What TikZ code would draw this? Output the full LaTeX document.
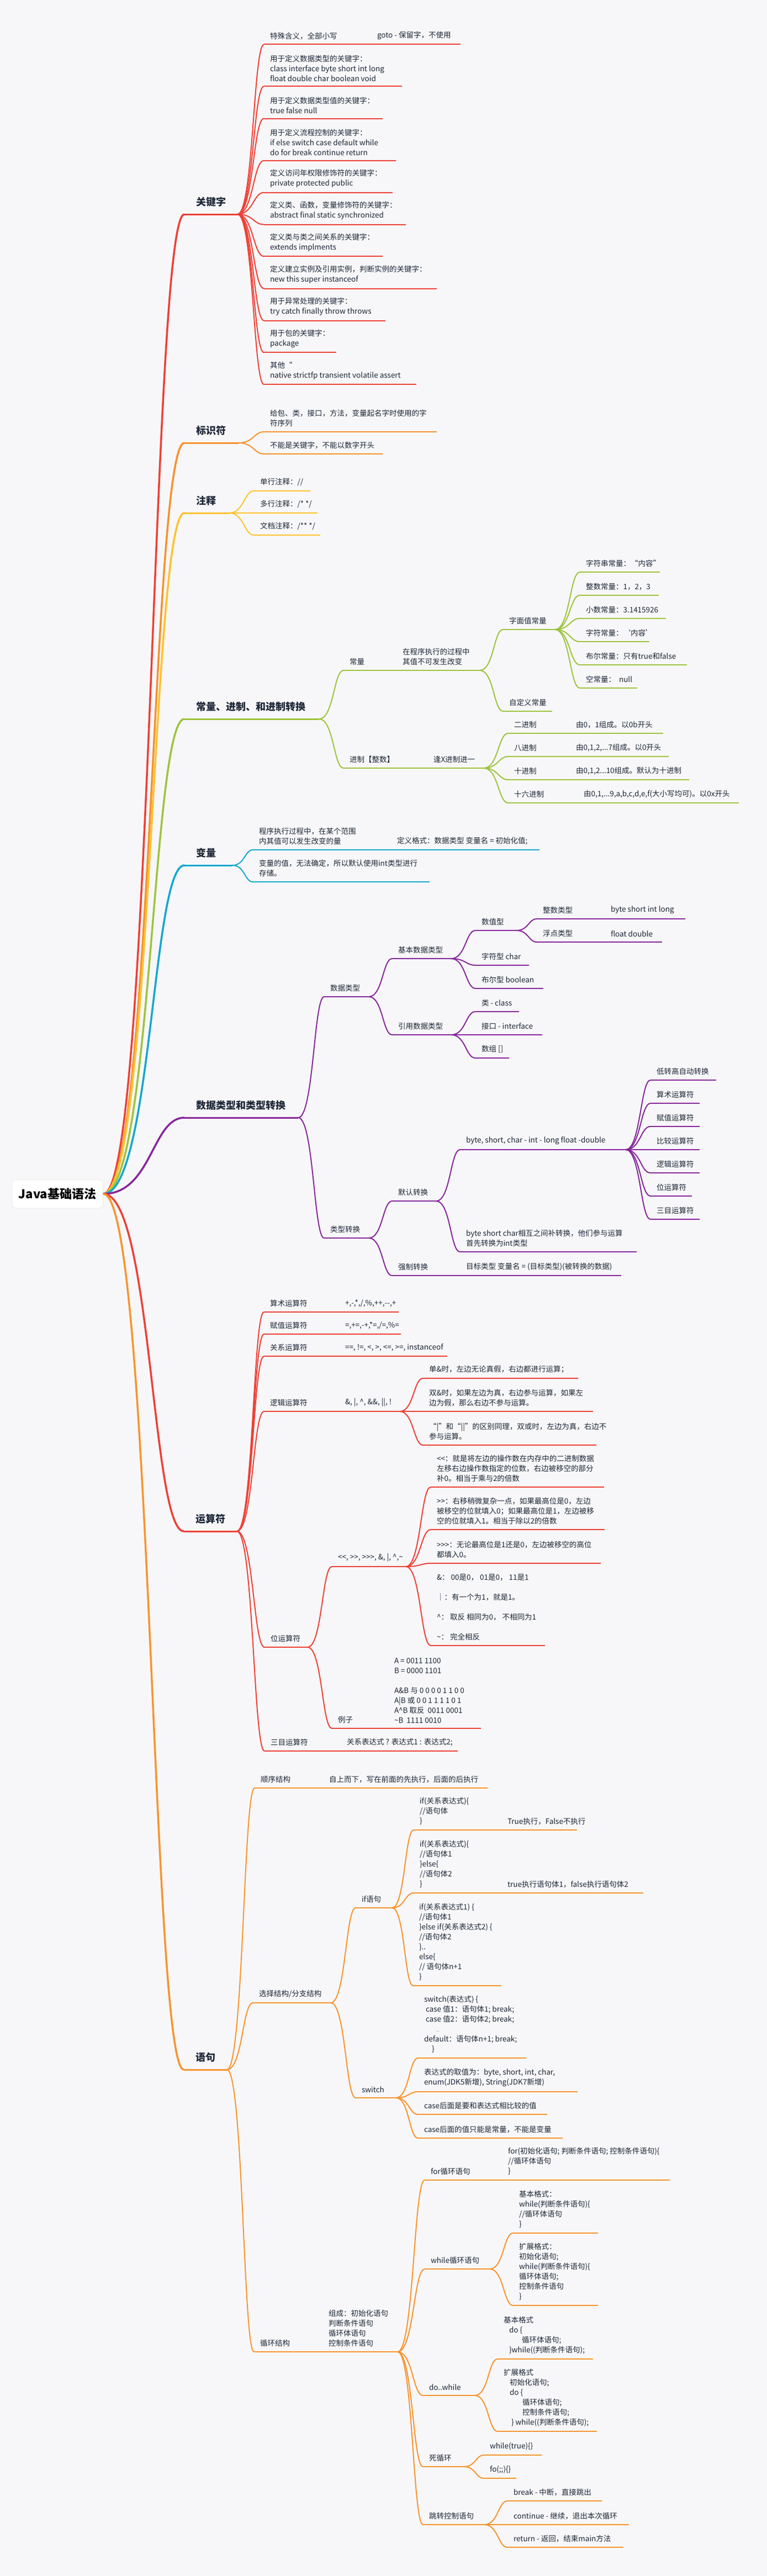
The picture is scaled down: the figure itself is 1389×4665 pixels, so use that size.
\documentclass[tikz,border=0pt]{standalone}
\usepackage{fontspec}
\newfontfamily\cjk{Noto Sans CJK SC}
\usetikzlibrary{calc}
\definecolor{bgc}{HTML}{F7F7F9}
\definecolor{txt}{HTML}{1D2736}
\definecolor{cK}{HTML}{EE4035}
\definecolor{cB}{HTML}{F7912D}
\definecolor{cZ}{HTML}{FFC22E}
\definecolor{cC}{HTML}{9DC43E}
\definecolor{cV}{HTML}{13A7CF}
\definecolor{cD}{HTML}{87279A}
\definecolor{cO}{HTML}{EE4035}
\definecolor{cS}{HTML}{F7942F}
\tikzset{
 item/.style={inner xsep=11pt, inner ysep=9pt, outer sep=0pt, anchor=south west, align=left, text=txt, font=\cjk\fontsize{13.5}{18}\selectfont},
 mainlab/.style={inner xsep=21pt, inner ysep=14pt, outer sep=0pt, anchor=south west, align=left, text=txt, font=\cjk\bfseries\fontsize{18}{22}\selectfont},
 ul/.style={line width=2pt},
 mainul/.style={line width=3pt},
 trunk/.style={line width=3.5pt},
 br/.style={line width=2pt, to path={.. controls ($(\tikztostart)!0.6!(\tikztotarget |- \tikztostart)$) and ($(\tikztotarget)!0.4!(\tikztostart |- \tikztotarget)$) .. (\tikztotarget)}},
 rootbox/.style={fill=white, draw=black!8, line width=1pt, rounded corners=8pt, minimum width=165pt, minimum height=52pt, text=black, font=\cjk\bfseries\fontsize{22}{26}\selectfont},
}
\newcommand{\mmitem}[6]{%
 \node[item] (#2) at (#3,#5) {#6};
 \coordinate (#2-e) at (#4,#5);
 \draw[ul,draw=#1] (#2.south west) -- (#2-e);}
\newcommand{\mmmain}[6]{%
 \node[mainlab] (#2) at (#3,#5) {#6};
 \coordinate (#2-e) at (#4,#5);
 \draw[mainul,draw=#1] (#2.south west) -- (#2-e);}
\begin{document}
\begin{tikzpicture}[x=1pt,y=-1pt]
\fill[bgc] (0,0) rectangle (1389,4665);
\useasboundingbox (0,0) rectangle (1389,4665);

\node[rootbox] (root) at (104,2162) {Java基础语法};

% main branches
\mmmain{cK}{K}{334}{430}{388}{关键字}
\mmmain{cB}{B}{334}{432}{802}{标识符}
\mmmain{cZ}{Z}{334}{415}{929}{注释}
\mmmain{cC}{C}{334}{578}{1302}{常量、进制、和进制转换}
\mmmain{cV}{V}{334}{421}{1567}{变量}
\mmmain{cD}{D}{334}{540}{2024}{数据类型和类型转换}
\mmmain{cO}{O}{333}{429}{2773}{运算符}
\mmmain{cS}{S}{333}{411}{3748}{语句}

% keywords
\mmitem{cK}{k1}{478}{620}{80.5}{特殊含义，全部小写}
\mmitem{cK}{k1a}{672}{834}{80.5}{goto - 保留字，不使用}
\mmitem{cK}{k2}{478}{728}{156.3}{用于定义数据类型的关键字：\\class interface byte short int long\\float double char boolean void}
\mmitem{cK}{k3}{478}{693}{214.6}{用于定义数据类型值的关键字：\\true false null}
\mmitem{cK}{k4}{478}{717}{290.8}{用于定义流程控制的关键字：\\if else switch case default while\\do for break continue return}
\mmitem{cK}{k5}{478}{711}{348.6}{定义访问年权限修饰符的关键字：\\private protected public}
\mmitem{cK}{k6}{478}{735}{406.5}{定义类、函数，变量修饰符的关键字：\\abstract final static synchronized}
\mmitem{cK}{k7}{478}{693}{464.3}{定义类与类之间关系的关键字：\\extends implments}
\mmitem{cK}{k8}{478}{791}{522.6}{定义建立实例及引用实例，判断实例的关键字：\\new this super instanceof}
\mmitem{cK}{k9}{478}{698}{580.5}{用于异常处理的关键字：\\try catch finally throw throws}
\mmitem{cK}{k10}{478}{609}{638.4}{用于包的关键字：\\package}
\mmitem{cK}{k11}{478}{754}{696.2}{其他“\\native strictfp transient volatile assert}

% identifiers
\mmitem{cB}{b1}{478}{791}{782}{给包、类，接口，方法，变量起名字时使用的字\\符序列}
\mmitem{cB}{b2}{478}{693}{822}{不能是关键字，不能以数字开头}

% comments
\mmitem{cZ}{z1}{460}{562}{889}{单行注释：//}
\mmitem{cZ}{z2}{460}{575}{929}{多行注释：/* */}
\mmitem{cZ}{z3}{460}{580}{969}{文档注释：/** */}

% constants
\mmitem{cC}{c1}{622}{668}{1214}{常量}
\mmitem{cC}{c1a}{718}{869}{1214}{在程序执行的过程中\\其值不可发生改变}
\mmitem{cC}{c11}{911}{1005}{1140}{字面值常量}
\mmitem{cC}{c111}{1050}{1195}{1036}{字符串常量：“内容”}
\mmitem{cC}{c112}{1050}{1193}{1078}{整数常量：1，2，3}
\mmitem{cC}{c113}{1050}{1206}{1120}{小数常量：3.1415926}
\mmitem{cC}{c114}{1050}{1176}{1162}{字符常量：‘内容’}
\mmitem{cC}{c115}{1050}{1244}{1204}{布尔常量：只有true和false}
\mmitem{cC}{c116}{1050}{1154}{1246}{空常量：\ \ null}
\mmitem{cC}{c12}{911}{1000}{1288}{自定义常量}
\mmitem{cC}{c2}{622}{716}{1391}{进制【整数】}
\mmitem{cC}{c2a}{774}{876}{1391}{逢X进制进一}
\mmitem{cC}{c21}{920}{985}{1328}{二进制}
\mmitem{cC}{c21a}{1032}{1201}{1328}{由0，1组成。以0b开头}
\mmitem{cC}{c22}{920}{985}{1370}{八进制}
\mmitem{cC}{c22a}{1032}{1211}{1370}{由0,1,2,...7组成。以0开头}
\mmitem{cC}{c23}{920}{985}{1412}{十进制}
\mmitem{cC}{c23a}{1032}{1248}{1412}{由0,1,2...10组成。默认为十进制}
\mmitem{cC}{c24}{920}{1000}{1454}{十六进制}
\mmitem{cC}{c24a}{1046}{1338}{1454}{由0,1,...9,a,b,c,d,e,f(大小写均可)。以0x开头}

% variables
\mmitem{cV}{v1}{458}{660}{1539}{程序执行过程中，在某个范围\\内其值可以发生改变的量}
\mmitem{cV}{v1a}{708}{977}{1539}{定义格式：数据类型 变量名 = 初始化值;}
\mmitem{cV}{v2}{458}{778}{1597}{变量的值，无法确定，所以默认使用int类型进行\\存储。}

% data types
\mmitem{cD}{d1}{587}{668}{1805}{数据类型}
\mmitem{cD}{d11}{710}{817}{1736}{基本数据类型}
\mmitem{cD}{d111}{861}{935}{1685}{数值型}
\mmitem{cD}{d1111}{972}{1060}{1664}{整数类型}
\mmitem{cD}{d1111a}{1095}{1241}{1664}{byte short int long}
\mmitem{cD}{d1112}{972}{1060}{1706}{浮点类型}
\mmitem{cD}{d1112a}{1095}{1199}{1706}{float double}
\mmitem{cD}{d112}{861}{958}{1748}{字符型 char}
\mmitem{cD}{d113}{861}{984}{1790}{布尔型 boolean}
\mmitem{cD}{d12}{710}{817}{1874}{引用数据类型}
\mmitem{cD}{d121}{861}{940}{1832}{类 - class}
\mmitem{cD}{d122}{861}{982}{1874}{接口 - interface}
\mmitem{cD}{d123}{861}{922}{1916}{数组 []}
\mmitem{cD}{d2}{587}{668}{2242}{类型转换}
\mmitem{cD}{d21}{710}{790}{2175}{默认转换}
\mmitem{cD}{d211}{833}{1133}{2082}{byte, short, char - int - long float -double}
\mmitem{cD}{d2111}{1178}{1297}{1956}{低转高自动转换}
\mmitem{cD}{d2112}{1178}{1267}{1998}{算术运算符}
\mmitem{cD}{d2113}{1178}{1267}{2040}{赋值运算符}
\mmitem{cD}{d2114}{1178}{1267}{2082}{比较运算符}
\mmitem{cD}{d2115}{1178}{1267}{2124}{逻辑运算符}
\mmitem{cD}{d2116}{1178}{1253}{2166}{位运算符}
\mmitem{cD}{d2117}{1178}{1267}{2208}{三目运算符}
\mmitem{cD}{d212}{833}{1153}{2267}{byte short char相互之间补转换，他们参与运算\\首先转换为int类型}
\mmitem{cD}{d22}{710}{790}{2310}{强制转换}
\mmitem{cD}{d22a}{833}{1125}{2310}{目标类型 变量名 = (目标类型)(被转换的数据)}

% operators
\mmitem{cO}{o1}{478}{585}{2376}{算术运算符}
\mmitem{cO}{o1a}{614}{722}{2376}{+,-,*,/,\%,++,-\kern0pt-,+}
\mmitem{cO}{o2}{478}{585}{2416}{赋值运算符}
\mmitem{cO}{o2a}{614}{726}{2416}{=,+=,-+,*=,/=,\%=}
\mmitem{cO}{o3}{478}{585}{2456}{关系运算符}
\mmitem{cO}{o3a}{614}{810}{2456}{==, !=, <, >, <=, >=, instanceof}
\mmitem{cO}{o4}{478}{585}{2556}{逻辑运算符}
\mmitem{cO}{o4a}{614}{724}{2556}{\&, |, \textasciicircum, \&\&, ||, !}
\mmitem{cO}{o41}{766}{1047}{2496}{单\&时，左边无论真假，右边都进行运算；}
\mmitem{cO}{o42}{766}{1074}{2556}{双\&时，如果左边为真，右边参与运算，如果左\\边为假，那么右边不参与运算。}
\mmitem{cO}{o43}{766}{1080}{2617}{“|”和“||”的区别同理，双或时，左边为真，右边不\\参与运算。}
\mmitem{cO}{o5}{479}{557}{2983}{位运算符}
\mmitem{cO}{o51}{601}{735}{2837}{<\kern0pt<, >\kern0pt>, >\kern0pt>\kern0pt>, \&, |, \textasciicircum,\textasciitilde}
\mmitem{cO}{o511}{780}{1094}{2693}{<\kern0pt<：就是将左边的操作数在内存中的二进制数据\\左移右边操作数指定的位数，右边被移空的部分\\补0。相当于乘与2的倍数}
\mmitem{cO}{o512}{780}{1095}{2770}{>\kern0pt>：右移稍微复杂一点，如果最高位是0，左边\\被移空的位就填入0；如果最高位是1，左边被移\\空的位就填入1。相当于除以2的倍数}
\mmitem{cO}{o513}{780}{1088}{2831}{>\kern0pt>\kern0pt>：无论最高位是1还是0，左边被移空的高位\\都填入0。}
\mmitem{cO}{o514}{780}{987}{2980}{\&：\ 00是0，\ 01是0，\ 11是1\\[18pt]｜：有一个为1，就是1。\\[18pt]\textasciicircum：\ 取反 相同为0，\ 不相同为1\\[18pt]\textasciitilde：\ 完全相反}
\mmitem{cO}{o52}{601}{650}{3130}{例子}
\mmitem{cO}{o52a}{703}{871}{3130}{A = 0011 1100\\B = 0000 1101\\[18pt]A\&B 与 0 0 0 0 1 1 0 0\\A|B 或 0 0 1 1 1 1 0 1\\A\textasciicircum B 取反\ \ 0011 0001\\\textasciitilde B\ \ 1111 0010}
\mmitem{cO}{o6}{479}{570}{3171}{三目运算符}
\mmitem{cO}{o6a}{617}{829}{3171}{关系表达式 ? 表达式1 : 表达式2;}

% statements
\mmitem{cS}{s1}{461}{550}{3238}{顺序结构}
\mmitem{cS}{s1a}{585}{883}{3238}{自上而下，写在前面的先执行，后面的后执行}
\mmitem{cS}{s2}{458}{599}{3627}{选择结构/分支结构}
\mmitem{cS}{s21}{644}{710}{3455}{if语句}
\mmitem{cS}{s211}{749}{880}{3314}{if(关系表达式)\{\\//语句体\\\}}
\mmitem{cS}{s211a}{908}{1045}{3314}{True执行，False不执行}
\mmitem{cS}{s212}{749}{880}{3428}{if(关系表达式)\{\\//语句体1\\\}else\{\\//语句体2\\\}}
\mmitem{cS}{s212a}{908}{1165}{3428}{true执行语句体1，false执行语句体2}
\mmitem{cS}{s213}{748}{908}{3596}{if(关系表达式1) \{\\//语句体1\\\}else if(关系表达式2) \{\\//语句体2\\\}..\\else\{\\// 语句体n+1\\\}}
\mmitem{cS}{s22}{644}{717}{3799}{switch}
\mmitem{cS}{s221}{757}{953}{3727}{switch(表达式) \{\\\hspace*{3pt}case 值1：语句体1; break;\\\hspace*{3pt}case 值2：语句体2; break;\\\hspace*{22pt}{\fontsize{7}{9}\selectfont ...}\\default：语句体n+1; break;\\\hspace*{14pt}\}}
\mmitem{cS}{s222}{757}{1046}{3788}{表达式的取值为：byte, short, int, char,\\enum(JDK5新增), String(JDK7新增)}
\mmitem{cS}{s223}{757}{991}{3829}{case后面是要和表达式相比较的值}
\mmitem{cS}{s224}{757}{1019}{3872}{case后面的值只能是常量，不能是变量}
\mmitem{cS}{s3}{460}{560}{4259}{循环结构}
\mmitem{cS}{s3a}{584}{720}{4259}{组成：初始化语句\\判断条件语句\\循环体语句\\控制条件语句}
\mmitem{cS}{s31}{769}{880}{3948}{for循环语句}
\mmitem{cS}{s31a}{909}{1213}{3948}{for(初始化语句; 判断条件语句; 控制条件语句)\{\\//循环体语句\\\}}
\mmitem{cS}{s32}{769}{887}{4109}{while循环语句}
\mmitem{cS}{s321}{929}{1083}{4044}{基本格式：\\while(判断条件语句)\{\\//循环体语句\\\}}
\mmitem{cS}{s322}{929}{1083}{4175}{扩展格式：\\初始化语句;\\while(判断条件语句)\{\\循环体语句;\\控制条件语句\\\}}
\mmitem{cS}{s33}{766}{860}{4338}{do..while}
\mmitem{cS}{s331}{901}{1074}{4272}{基本格式\\\hspace*{10pt}do \{\\\hspace*{33pt}循环体语句;\\\hspace*{10pt}\}while((判断条件语句);}
\mmitem{cS}{s332}{901}{1081}{4403}{扩展格式\\\hspace*{11pt}初始化语句;\\\hspace*{11pt}do \{\\\hspace*{34pt}循环体语句;\\\hspace*{34pt}控制条件语句;\\\hspace*{14pt}\} while((判断条件语句);}
\mmitem{cS}{s34}{766}{840}{4467}{死循环}
\mmitem{cS}{s341}{876}{981}{4446}{while(true)\{\}}
\mmitem{cS}{s342}{876}{935}{4488}{fo(;;)\{\}}
\mmitem{cS}{s35}{766}{877}{4572}{跳转控制语句}
\mmitem{cS}{s351}{919}{1090}{4529}{break - 中断，直接跳出}
\mmitem{cS}{s352}{919}{1139}{4572}{continue - 继续，退出本次循环}
\mmitem{cS}{s353}{919}{1129}{4613}{return - 返回，结束main方法}

% trunk connectors
\foreach \c/\col in {K/cK,B/cB,Z/cZ,C/cC,V/cV,D/cD,O/cO,S/cS}
 {\draw[br,trunk,draw=\col] (root.east) to (\c.south west);}

% branch connectors
\foreach \p/\c in {K/k1,K/k2,K/k3,K/k4,K/k5,K/k6,K/k7,K/k8,K/k9,K/k10,K/k11,k1/k1a}
 {\draw[br,draw=cK] (\p-e) to (\c.south west);}
\foreach \p/\c in {B/b1,B/b2}
 {\draw[br,draw=cB] (\p-e) to (\c.south west);}
\foreach \p/\c in {Z/z1,Z/z2,Z/z3}
 {\draw[br,draw=cZ] (\p-e) to (\c.south west);}
\foreach \p/\c in {C/c1,C/c2,c1/c1a,c1a/c11,c1a/c12,c11/c111,c11/c112,c11/c113,c11/c114,c11/c115,c11/c116,c2/c2a,c2a/c21,c2a/c22,c2a/c23,c2a/c24,c21/c21a,c22/c22a,c23/c23a,c24/c24a}
 {\draw[br,draw=cC] (\p-e) to (\c.south west);}
\foreach \p/\c in {V/v1,V/v2,v1/v1a}
 {\draw[br,draw=cV] (\p-e) to (\c.south west);}
\foreach \p/\c in {D/d1,D/d2,d1/d11,d1/d12,d11/d111,d11/d112,d11/d113,d111/d1111,d111/d1112,d1111/d1111a,d1112/d1112a,d12/d121,d12/d122,d12/d123,d2/d21,d2/d22,d21/d211,d21/d212,d211/d2111,d211/d2112,d211/d2113,d211/d2114,d211/d2115,d211/d2116,d211/d2117,d22/d22a}
 {\draw[br,draw=cD] (\p-e) to (\c.south west);}
\foreach \p/\c in {O/o1,O/o2,O/o3,O/o4,O/o5,O/o6,o1/o1a,o2/o2a,o3/o3a,o4/o4a,o4a/o41,o4a/o42,o4a/o43,o5/o51,o5/o52,o51/o511,o51/o512,o51/o513,o51/o514,o52/o52a,o6/o6a}
 {\draw[br,draw=cO] (\p-e) to (\c.south west);}
\foreach \p/\c in {S/s1,S/s2,S/s3,s1/s1a,s2/s21,s2/s22,s21/s211,s21/s212,s21/s213,s211/s211a,s212/s212a,s22/s221,s22/s222,s22/s223,s22/s224,s3/s3a,s3a/s31,s3a/s32,s3a/s33,s3a/s34,s3a/s35,s31/s31a,s32/s321,s32/s322,s33/s331,s33/s332,s34/s341,s34/s342,s35/s351,s35/s352,s35/s353}
 {\draw[br,draw=cS] (\p-e) to (\c.south west);}
\end{tikzpicture}
\end{document}
